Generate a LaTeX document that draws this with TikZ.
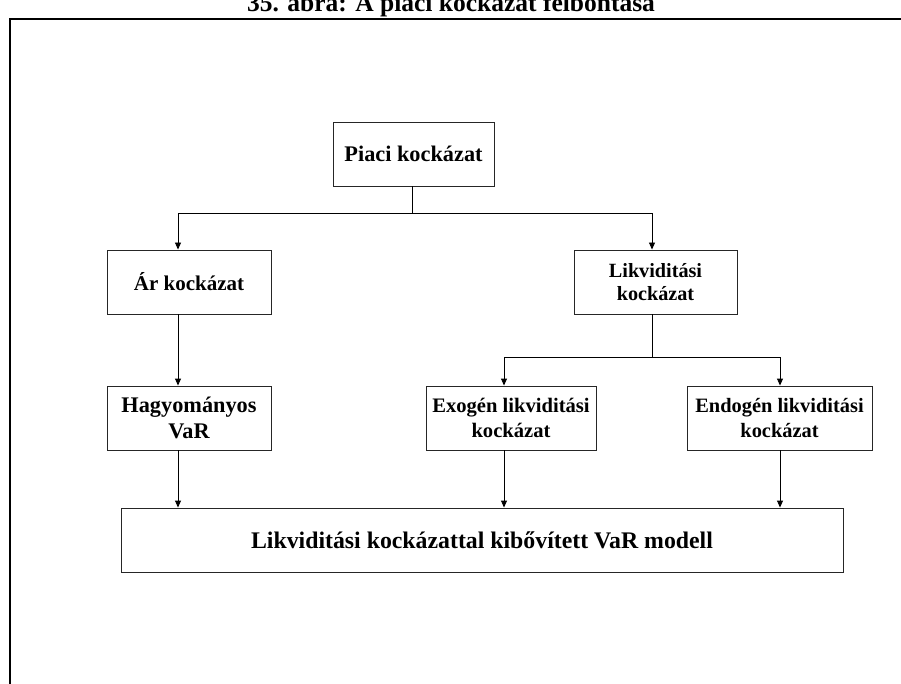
\documentclass[tikz,border=0pt]{standalone}
\usepackage{fontspec}
\setmainfont{Liberation Serif}
\usetikzlibrary{arrows.meta,shadows}
\newcommand{\fsz}[1]{\fontsize{#1}{1.2\dimexpr#1pt\relax}\selectfont\bfseries}
\begin{document}
\begin{tikzpicture}[x=1pt,y=-1pt,
  box/.style={draw=black!85,line width=0.9pt,fill=white,rectangle,inner sep=0pt,align=center,
    font=\fsz{20},
    drop shadow={shadow xshift=1.2pt,shadow yshift=-1.2pt,fill=black!35,opacity=1}},
  conn/.style={draw=black,line width=0.9pt},
  arr/.style={conn,-{Triangle[length=7pt,width=6pt]}},
  frame/.style={draw=black,line width=2.6pt}]
\useasboundingbox (0,0) rectangle (901,684);
\clip (0,0) rectangle (901,684);
% title (cut off at the top, as in the reference)
\node[anchor=base,font=\fsz{25.5},inner sep=0pt] (title) at (451,12) {35. ábra: A piaci kockázat felbontása};
% frame
\draw[frame] (10,720) -- (10,19) -- (920,19);
% boxes
\node[box,font=\fsz{22.3},minimum width=161pt,minimum height=64pt] (piaci) at (413.5,154) {Piaci kockázat};
\node[box,font=\fsz{21},minimum width=164pt,minimum height=64pt] (ar) at (189,282) {Ár kockázat};
\node[box,font=\fontsize{20.2}{23}\selectfont\bfseries,minimum width=163pt,minimum height=64pt] (likv) at (655.5,282) {Likviditási\\kockázat};
\node[box,font=\fontsize{22.3}{26}\selectfont\bfseries,minimum width=164pt,minimum height=64pt] (hagy) at (189,418) {Hagyományos\\VaR};
\node[box,font=\fontsize{20.6}{24.5}\selectfont\bfseries,minimum width=170pt,minimum height=64pt] (exo) at (511,418) {Exogén likviditási\\kockázat};
\node[box,font=\fontsize{20.4}{24.5}\selectfont\bfseries,minimum width=185pt,minimum height=64pt] (endo) at (779.5,418) {Endogén likviditási\\kockázat};
\node[box,font=\fsz{23.8},minimum width=722pt,minimum height=64pt] (model) at (482,540) {Likviditási kockázattal kibővített VaR modell};
% connector coordinates
\coordinate (busM) at (412,213);
\coordinate (busL) at (178,213);
\coordinate (busR) at (652,213);
\coordinate (bus2M) at (652,357);
\coordinate (bus2L) at (504,357);
\coordinate (bus2R) at (780,357);
% connectors
\draw[conn] (piaci.south -| busM) -- (busM);
\draw[arr] (busM) -| (busL |- ar.north);
\draw[arr] (busM) -| (busR |- likv.north);
\draw[arr] (busL |- ar.south) -- (busL |- hagy.north);
\draw[conn] (likv.south -| bus2M) -- (bus2M);
\draw[arr] (bus2M) -| (bus2L |- exo.north);
\draw[arr] (bus2M) -| (bus2R |- endo.north);
\draw[arr] (busL |- hagy.south) -- (busL |- model.north);
\draw[arr] (bus2L |- exo.south) -- (bus2L |- model.north);
\draw[arr] (bus2R |- endo.south) -- (bus2R |- model.north);
\end{tikzpicture}
\end{document}
